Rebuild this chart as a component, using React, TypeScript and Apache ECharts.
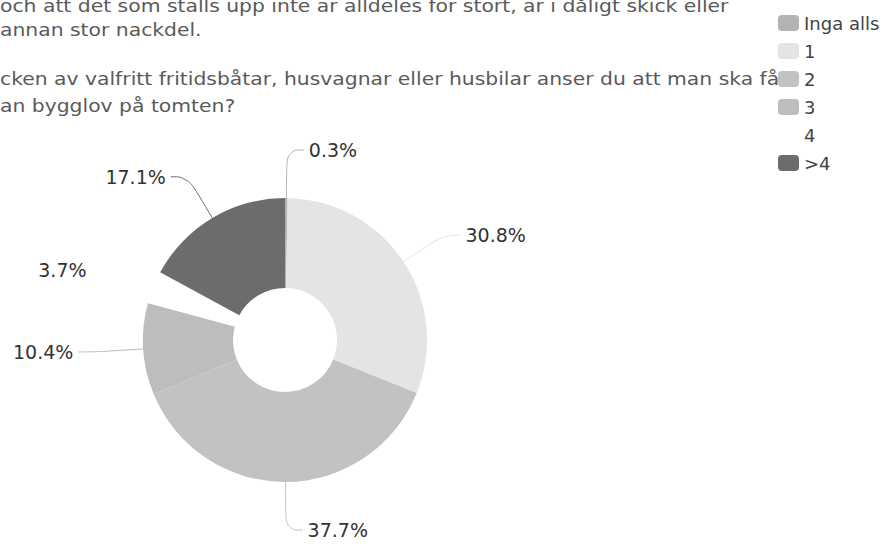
import React, { useEffect, useRef } from "react";
import * as echarts from "echarts";

const categories = ["Inga alls", "1", "2", "3", "4", ">4"];
const values = [0.3, 30.8, 37.7, 10.4, 3.7, 17.1];
const colors = ["#b3b3b3", "#e4e4e4", "#c2c2c2", "#bdbdbd", "#ffffff", "#6c6c6c"];
const textLines = [
  "och att det som ställs upp inte är alldeles för stort, är i dåligt skick eller",
  "annan stor nackdel.",
  "cken av valfritt fritidsbåtar, husvagnar eller husbilar anser du att man ska få",
  "an bygglov på tomten?",
];
const textY = [6, 30, 79, 106];

export default function App() {
  const ref = useRef<HTMLDivElement>(null);
  useEffect(() => {
    if (!ref.current) return;
    const chart = echarts.init(ref.current, null, { renderer: "svg" });
    chart.setOption({
      animation: false,
      backgroundColor: "#ffffff",
      graphic: textLines.map((t, i) => ({
        type: "text",
        x: 0,
        y: textY[i],
        scaleX: 1.13,
        z: 100,
        style: {
          text: t,
          fill: "#5a5a5a",
          font: "18px 'DejaVu Sans'",
          verticalAlign: "middle",
        },
      })),
      legend: {
        orient: "vertical",
        left: 773,
        top: 8,
        itemWidth: 21,
        itemHeight: 16,
        itemGap: 8,
        icon: "roundRect",
        data: categories,
        textStyle: { fontFamily: "DejaVu Sans", fontSize: 18, color: "#444", lineHeight: 20 },
        z: 10,
      },
      series: [
        {
          type: "pie",
          center: [285, 340],
          radius: [52, 142],
          startAngle: 90,
          clockwise: true,
          avoidLabelOverlap: false,
          data: categories.map((c, i) => ({
            name: c,
            value: values[i],
            itemStyle: { color: colors[i] },
          })),
          label: {
            show: true,
            position: "outside",
            formatter: (p: any) => values[p.dataIndex].toFixed(1) + "%",
            fontFamily: "DejaVu Sans",
            fontSize: 19,
            color: "#333",
          },
          labelLine: {
            show: true,
            length: 48,
            length2: 17,
            smooth: 0.45,
            lineStyle: { width: 1 },
          },
          emphasis: { disabled: true },
        },
      ],
    });
    return () => chart.dispose();
  }, []);
  return <div ref={ref} style={{ width: 888, height: 547, position: "absolute", left: 0, top: 0 }} />;
}
